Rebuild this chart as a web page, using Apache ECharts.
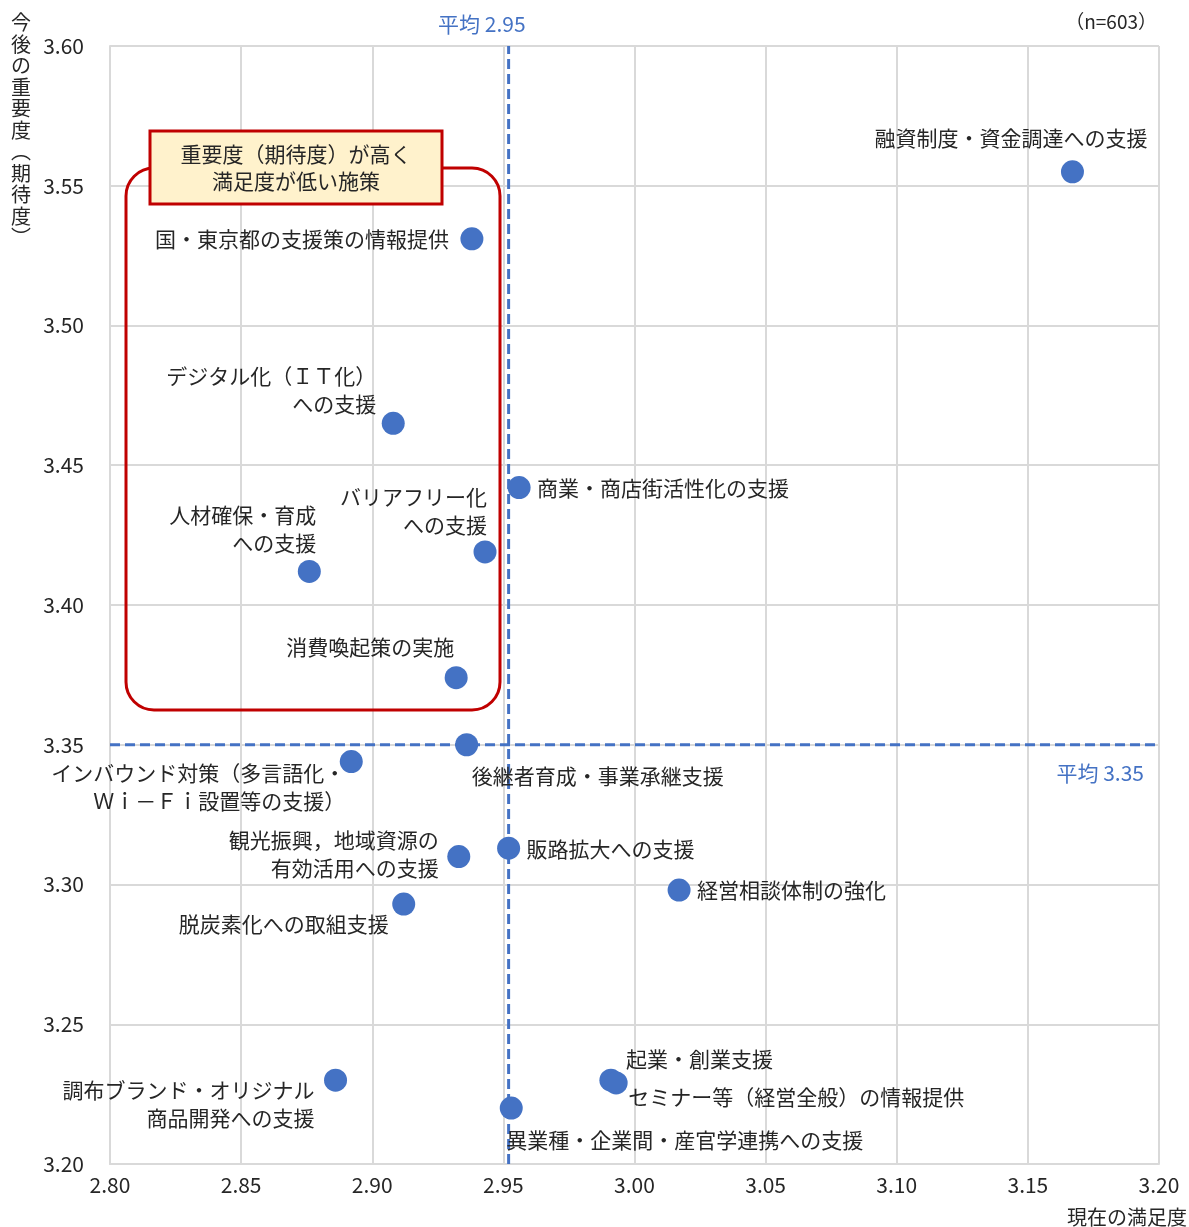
<!DOCTYPE html>
<html><head><meta charset="utf-8">
<script src="https://cdn.jsdelivr.net/npm/echarts@6/dist/echarts.min.js"></script>
<style>html,body{margin:0;padding:0;background:#fff}#c{width:1189px;height:1227px}</style>
</head><body><div id="c"></div>
<script>
// ---- data ----
const measures = [
  '融資制度・資金調達への支援',
  '国・東京都の支援策の情報提供',
  'デジタル化（ＩＴ化）\nへの支援',
  '商業・商店街活性化の支援',
  'バリアフリー化\nへの支援',
  '人材確保・育成\nへの支援',
  '消費喚起策の実施',
  '後継者育成・事業承継支援',
  'インバウンド対策（多言語化・\nＷｉ－Ｆｉ設置等の支援）',
  '観光振興，地域資源の\n有効活用への支援',
  '販路拡大への支援',
  '経営相談体制の強化',
  '脱炭素化への取組支援',
  '調布ブランド・オリジナル\n商品開発への支援',
  '起業・創業支援',
  'セミナー等（経営全般）の情報提供',
  '異業種・企業間・産官学連携への支援'
];
const satisfaction = [3.167, 2.938, 2.908, 2.956, 2.943, 2.876, 2.932, 2.936, 2.892, 2.933, 2.952, 3.017, 2.912, 2.886, 2.991, 2.993, 2.953];
const importance   = [3.555, 3.531, 3.465, 3.442, 3.419, 3.412, 3.374, 3.350, 3.344, 3.310, 3.313, 3.298, 3.293, 3.230, 3.230, 3.229, 3.220];
const avgSatisfaction = 2.952;
const avgImportance = 3.350;
const xRange = [2.80, 3.20];
const yRange = [3.20, 3.60];
const tickStep = 0.05;
const sampleNote = '（n=603）';
const xAxisTitle = '現在の満足度';
const yAxisTitle = '今後の重要度︵期待度︶';
const calloutText = '重要度（期待度）が高く\n満足度が低い施策';

// ---- label placement (style only) ----
const labelPlace = [
  ['right', 75, -34], ['right', -23, 0], ['right', -17, -33], ['left', 18, 0],
  ['right', 2, -41], ['right', 7, -42], ['right', -2, -31], ['left', 5, 31],
  ['right', -6, 25], ['right', -20, -3], ['left', 18, 1], ['left', 18, 0],
  ['right', -15, 20], ['right', -21, 24], ['left', 15, -21], ['left', 12, 14],
  ['left', -5, 32]
];

const FONT = "'Noto Sans CJK JP', 'Noto Sans', sans-serif";
const BLUE = '#4472C4';
const TXT = '#262626';

const chart = echarts.init(document.getElementById('c'));

const points = measures.map((n, i) => ({
  name: n,
  value: [satisfaction[i], importance[i]],
  label: {
    show: true, position: 'inside', formatter: '{b}',
    offset: [labelPlace[i][1], labelPlace[i][2]],
    align: labelPlace[i][0], verticalAlign: 'middle',
    color: TXT, fontSize: 21, lineHeight: 28, fontFamily: FONT,
    textBorderWidth: 0
  }
}));

const axisCommon = {
  type: 'value', interval: tickStep,
  axisLine: { show: true, lineStyle: { color: '#d9d9d9', width: 2 } },
  axisTick: { show: false },
  splitLine: { show: true, lineStyle: { color: '#d9d9d9', width: 2 } },
  axisLabel: { fontSize: 21, color: TXT, fontFamily: FONT, formatter: v => v.toFixed(2) }
};

chart.setOption({
  animation: false,
  textStyle: { fontFamily: FONT },
  grid: { left: 110, right: 30, top: 46, bottom: 63, containLabel: false },
  xAxis: Object.assign({}, axisCommon, { min: xRange[0], max: xRange[1],
    axisLabel: Object.assign({}, axisCommon.axisLabel, { margin: 11 }) }),
  yAxis: Object.assign({}, axisCommon, { min: yRange[0], max: yRange[1],
    axisLabel: Object.assign({}, axisCommon.axisLabel, { margin: 26 }) }),
  series: [
    { type: 'line', z: 1, symbol: 'none', silent: true,
      data: [[avgSatisfaction, yRange[0]], [avgSatisfaction, yRange[1]]],
      lineStyle: { color: BLUE, width: 3, type: [10, 5] } },
    { type: 'line', z: 1, symbol: 'none', silent: true,
      data: [[xRange[0], avgImportance], [xRange[1], avgImportance]],
      lineStyle: { color: BLUE, width: 3, type: [10, 5] } },
    { type: 'scatter', z: 3, symbolSize: 23, itemStyle: { color: BLUE, opacity: 1 },
      emphasis: { disabled: true }, data: points }
  ]
});

const pAvgX = chart.convertToPixel({ gridIndex: 0 }, [avgSatisfaction, avgImportance]);
const pMax = chart.convertToPixel({ gridIndex: 0 }, [xRange[1], yRange[1]]);

chart.setOption({
  graphic: [
    { type: 'rect', z: 2, shape: { x: 126, y: 168, width: 374, height: 542, r: 28 },
      style: { fill: 'none', stroke: '#C00000', lineWidth: 3 } },
    { type: 'rect', z: 4, shape: { x: 150, y: 131, width: 292, height: 73 },
      style: { fill: '#FFF2CC', stroke: '#C00000', lineWidth: 3 } },
    { type: 'text', z: 5, x: 296, y: 168,
      style: { text: calloutText, fontSize: 21, lineHeight: 27, fill: TXT, fontFamily: FONT,
        align: 'center', verticalAlign: 'middle' } },
    { type: 'text', z: 5, x: pAvgX[0] + 17, y: 24,
      style: { text: '平均 ' + avgSatisfaction.toFixed(2), fontSize: 21, fill: BLUE, fontFamily: FONT,
        align: 'right', verticalAlign: 'middle' } },
    { type: 'text', z: 5, x: pMax[0] - 15, y: pAvgX[1] + 28,
      style: { text: '平均 ' + avgImportance.toFixed(2), fontSize: 21, fill: BLUE, fontFamily: FONT,
        align: 'right', verticalAlign: 'middle' } },
    { type: 'text', z: 5, x: 1157, y: 22,
      style: { text: sampleNote, fontSize: 19, fill: TXT, fontFamily: FONT,
        align: 'right', verticalAlign: 'middle' } },
    { type: 'text', z: 5, x: 1187, y: 1217,
      style: { text: xAxisTitle, fontSize: 20, fill: TXT, fontFamily: FONT,
        align: 'right', verticalAlign: 'middle' } },
    { type: 'text', z: 5, x: 21, y: 12,
      style: { text: yAxisTitle.split('').join('\n'), fontSize: 20, lineHeight: 21.5, fill: TXT, fontFamily: FONT,
        align: 'center', verticalAlign: 'top' } }
  ]
});
</script>
</body></html>
